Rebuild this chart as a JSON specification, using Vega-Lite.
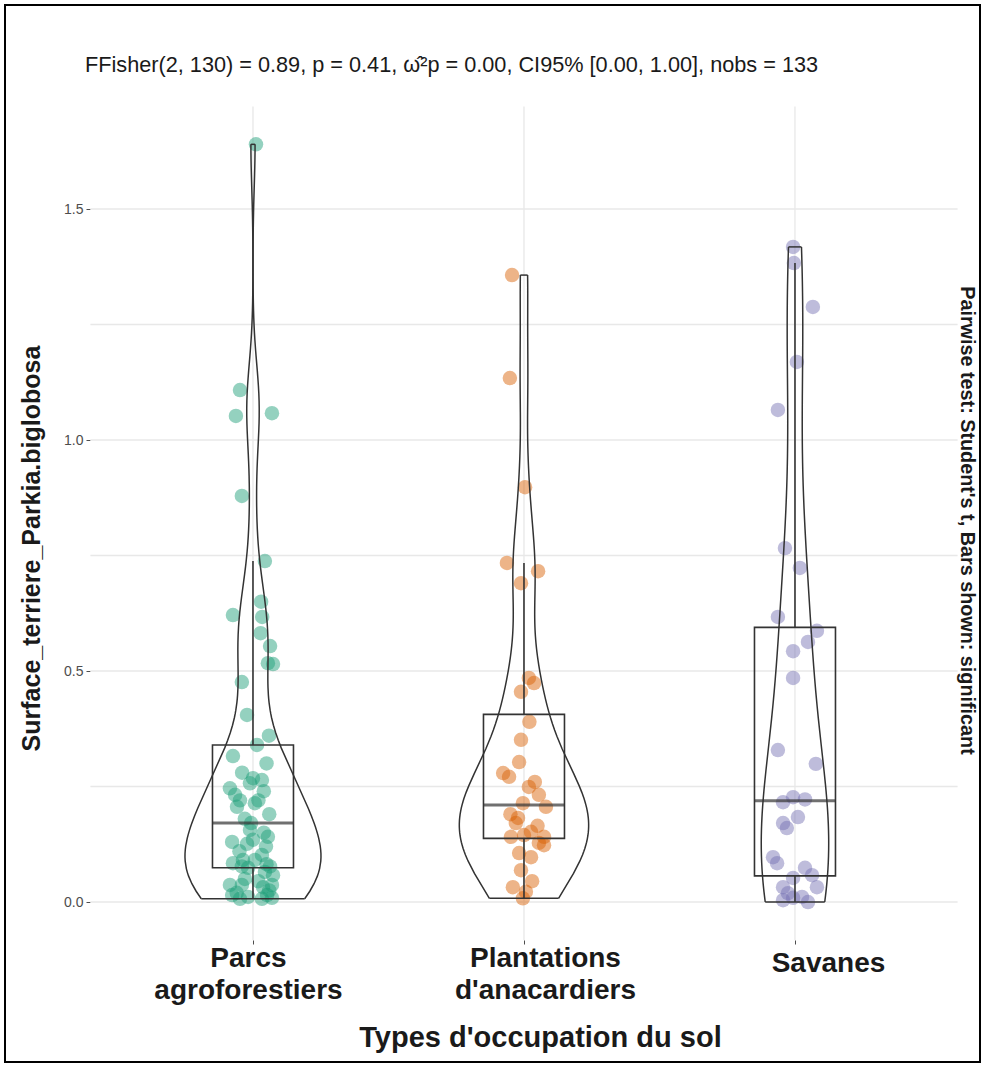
{
  "$schema": "https://vega.github.io/schema/vega-lite/v6.json",
  "width": 975,
  "height": 1057,
  "autosize": {"type": "none"},
  "padding": {"left": 5, "top": 5, "right": 4, "bottom": 4},
  "background": "white",
  "config": {
    "font": "Liberation Sans",
    "view": {"stroke": "#000000", "strokeWidth": 2, "fill": "white"}
  },
  "title": {
    "text": "FFisher(2, 130) = 0.89, p = 0.41, ω̂²p = 0.00, CI95% [0.00, 1.00], nobs = 133",
    "anchor": "start",
    "frame": "group",
    "offset": -72,
    "dx": 80,
    "fontSize": 21.7,
    "fontWeight": "normal",
    "color": "#1A1A1A"
  },
  "datasets": {
    "obs": [
      {"group": "Parcs agroforestiers", "value": 1.64, "jitter": 0.011},
      {"group": "Parcs agroforestiers", "value": 1.108, "jitter": -0.048},
      {"group": "Parcs agroforestiers", "value": 1.052, "jitter": -0.063},
      {"group": "Parcs agroforestiers", "value": 1.058, "jitter": 0.07},
      {"group": "Parcs agroforestiers", "value": 0.879, "jitter": -0.041},
      {"group": "Parcs agroforestiers", "value": 0.738, "jitter": 0.044},
      {"group": "Parcs agroforestiers", "value": 0.621, "jitter": -0.074},
      {"group": "Parcs agroforestiers", "value": 0.65, "jitter": 0.03},
      {"group": "Parcs agroforestiers", "value": 0.617, "jitter": 0.034},
      {"group": "Parcs agroforestiers", "value": 0.582, "jitter": 0.028},
      {"group": "Parcs agroforestiers", "value": 0.554, "jitter": 0.063},
      {"group": "Parcs agroforestiers", "value": 0.517, "jitter": 0.055},
      {"group": "Parcs agroforestiers", "value": 0.515, "jitter": 0.074},
      {"group": "Parcs agroforestiers", "value": 0.476, "jitter": -0.041},
      {"group": "Parcs agroforestiers", "value": 0.405, "jitter": -0.022},
      {"group": "Parcs agroforestiers", "value": 0.36, "jitter": 0.059},
      {"group": "Parcs agroforestiers", "value": 0.34, "jitter": 0.015},
      {"group": "Parcs agroforestiers", "value": 0.316, "jitter": -0.074},
      {"group": "Parcs agroforestiers", "value": 0.3, "jitter": 0.05},
      {"group": "Parcs agroforestiers", "value": 0.28, "jitter": -0.04},
      {"group": "Parcs agroforestiers", "value": 0.268, "jitter": 0.0},
      {"group": "Parcs agroforestiers", "value": 0.264, "jitter": 0.033},
      {"group": "Parcs agroforestiers", "value": 0.257, "jitter": -0.011},
      {"group": "Parcs agroforestiers", "value": 0.246, "jitter": -0.085},
      {"group": "Parcs agroforestiers", "value": 0.24, "jitter": 0.04},
      {"group": "Parcs agroforestiers", "value": 0.232, "jitter": -0.066},
      {"group": "Parcs agroforestiers", "value": 0.22, "jitter": -0.048},
      {"group": "Parcs agroforestiers", "value": 0.22, "jitter": 0.02},
      {"group": "Parcs agroforestiers", "value": 0.214, "jitter": 0.007},
      {"group": "Parcs agroforestiers", "value": 0.206, "jitter": -0.059},
      {"group": "Parcs agroforestiers", "value": 0.19, "jitter": 0.06},
      {"group": "Parcs agroforestiers", "value": 0.18, "jitter": -0.03},
      {"group": "Parcs agroforestiers", "value": 0.171, "jitter": -0.007},
      {"group": "Parcs agroforestiers", "value": 0.156, "jitter": -0.011},
      {"group": "Parcs agroforestiers", "value": 0.15, "jitter": 0.04},
      {"group": "Parcs agroforestiers", "value": 0.141, "jitter": 0.055},
      {"group": "Parcs agroforestiers", "value": 0.135, "jitter": 0.0},
      {"group": "Parcs agroforestiers", "value": 0.13, "jitter": -0.077},
      {"group": "Parcs agroforestiers", "value": 0.126, "jitter": -0.022},
      {"group": "Parcs agroforestiers", "value": 0.12, "jitter": 0.048},
      {"group": "Parcs agroforestiers", "value": 0.11, "jitter": -0.05},
      {"group": "Parcs agroforestiers", "value": 0.102, "jitter": 0.033},
      {"group": "Parcs agroforestiers", "value": 0.091, "jitter": -0.037},
      {"group": "Parcs agroforestiers", "value": 0.091, "jitter": 0.007},
      {"group": "Parcs agroforestiers", "value": 0.084, "jitter": -0.074},
      {"group": "Parcs agroforestiers", "value": 0.082, "jitter": 0.05},
      {"group": "Parcs agroforestiers", "value": 0.077, "jitter": -0.041},
      {"group": "Parcs agroforestiers", "value": 0.077, "jitter": 0.063},
      {"group": "Parcs agroforestiers", "value": 0.074, "jitter": -0.018},
      {"group": "Parcs agroforestiers", "value": 0.065, "jitter": 0.044},
      {"group": "Parcs agroforestiers", "value": 0.058, "jitter": 0.074},
      {"group": "Parcs agroforestiers", "value": 0.05, "jitter": -0.03},
      {"group": "Parcs agroforestiers", "value": 0.045, "jitter": 0.02},
      {"group": "Parcs agroforestiers", "value": 0.037, "jitter": -0.085},
      {"group": "Parcs agroforestiers", "value": 0.037, "jitter": -0.041},
      {"group": "Parcs agroforestiers", "value": 0.037, "jitter": 0.07},
      {"group": "Parcs agroforestiers", "value": 0.032, "jitter": 0.037},
      {"group": "Parcs agroforestiers", "value": 0.025, "jitter": 0.06},
      {"group": "Parcs agroforestiers", "value": 0.02, "jitter": -0.06},
      {"group": "Parcs agroforestiers", "value": 0.015, "jitter": -0.077},
      {"group": "Parcs agroforestiers", "value": 0.015, "jitter": 0.052},
      {"group": "Parcs agroforestiers", "value": 0.011, "jitter": -0.018},
      {"group": "Parcs agroforestiers", "value": 0.009, "jitter": 0.07},
      {"group": "Parcs agroforestiers", "value": 0.007, "jitter": -0.048},
      {"group": "Parcs agroforestiers", "value": 0.007, "jitter": 0.033},
      {"group": "Plantations d'anacardiers", "value": 1.357, "jitter": -0.044},
      {"group": "Plantations d'anacardiers", "value": 1.134, "jitter": -0.052},
      {"group": "Plantations d'anacardiers", "value": 0.898, "jitter": 0.004},
      {"group": "Plantations d'anacardiers", "value": 0.734, "jitter": -0.063},
      {"group": "Plantations d'anacardiers", "value": 0.716, "jitter": 0.052},
      {"group": "Plantations d'anacardiers", "value": 0.69, "jitter": -0.011},
      {"group": "Plantations d'anacardiers", "value": 0.485, "jitter": 0.018},
      {"group": "Plantations d'anacardiers", "value": 0.474, "jitter": 0.037},
      {"group": "Plantations d'anacardiers", "value": 0.455, "jitter": -0.011},
      {"group": "Plantations d'anacardiers", "value": 0.39, "jitter": 0.02},
      {"group": "Plantations d'anacardiers", "value": 0.351, "jitter": -0.011},
      {"group": "Plantations d'anacardiers", "value": 0.303, "jitter": -0.018},
      {"group": "Plantations d'anacardiers", "value": 0.279, "jitter": -0.077},
      {"group": "Plantations d'anacardiers", "value": 0.271, "jitter": -0.055},
      {"group": "Plantations d'anacardiers", "value": 0.26, "jitter": 0.04},
      {"group": "Plantations d'anacardiers", "value": 0.249, "jitter": 0.018},
      {"group": "Plantations d'anacardiers", "value": 0.232, "jitter": 0.055},
      {"group": "Plantations d'anacardiers", "value": 0.214, "jitter": -0.004},
      {"group": "Plantations d'anacardiers", "value": 0.206, "jitter": 0.081},
      {"group": "Plantations d'anacardiers", "value": 0.19, "jitter": -0.05},
      {"group": "Plantations d'anacardiers", "value": 0.182, "jitter": -0.022},
      {"group": "Plantations d'anacardiers", "value": 0.171, "jitter": -0.03},
      {"group": "Plantations d'anacardiers", "value": 0.165, "jitter": 0.05},
      {"group": "Plantations d'anacardiers", "value": 0.152, "jitter": 0.026},
      {"group": "Plantations d'anacardiers", "value": 0.145, "jitter": 0.0},
      {"group": "Plantations d'anacardiers", "value": 0.141, "jitter": -0.048},
      {"group": "Plantations d'anacardiers", "value": 0.141, "jitter": 0.074},
      {"group": "Plantations d'anacardiers", "value": 0.128, "jitter": 0.055},
      {"group": "Plantations d'anacardiers", "value": 0.123, "jitter": 0.074},
      {"group": "Plantations d'anacardiers", "value": 0.106, "jitter": -0.018},
      {"group": "Plantations d'anacardiers", "value": 0.097, "jitter": 0.026},
      {"group": "Plantations d'anacardiers", "value": 0.069, "jitter": -0.011},
      {"group": "Plantations d'anacardiers", "value": 0.045, "jitter": 0.03},
      {"group": "Plantations d'anacardiers", "value": 0.032, "jitter": -0.041},
      {"group": "Plantations d'anacardiers", "value": 0.022, "jitter": 0.007},
      {"group": "Plantations d'anacardiers", "value": 0.008, "jitter": -0.004},
      {"group": "Savanes", "value": 1.418, "jitter": -0.007},
      {"group": "Savanes", "value": 1.383, "jitter": -0.004},
      {"group": "Savanes", "value": 1.288, "jitter": 0.066},
      {"group": "Savanes", "value": 1.169, "jitter": 0.007},
      {"group": "Savanes", "value": 1.065, "jitter": -0.063},
      {"group": "Savanes", "value": 0.766, "jitter": -0.037},
      {"group": "Savanes", "value": 0.723, "jitter": 0.018},
      {"group": "Savanes", "value": 0.617, "jitter": -0.063},
      {"group": "Savanes", "value": 0.587, "jitter": 0.081},
      {"group": "Savanes", "value": 0.563, "jitter": 0.048},
      {"group": "Savanes", "value": 0.543, "jitter": -0.007},
      {"group": "Savanes", "value": 0.485, "jitter": -0.007},
      {"group": "Savanes", "value": 0.329, "jitter": -0.063},
      {"group": "Savanes", "value": 0.299, "jitter": 0.077},
      {"group": "Savanes", "value": 0.227, "jitter": -0.007},
      {"group": "Savanes", "value": 0.222, "jitter": 0.037},
      {"group": "Savanes", "value": 0.216, "jitter": -0.044},
      {"group": "Savanes", "value": 0.184, "jitter": 0.011},
      {"group": "Savanes", "value": 0.171, "jitter": -0.044},
      {"group": "Savanes", "value": 0.16, "jitter": -0.03},
      {"group": "Savanes", "value": 0.097, "jitter": -0.081},
      {"group": "Savanes", "value": 0.084, "jitter": -0.066},
      {"group": "Savanes", "value": 0.074, "jitter": 0.037},
      {"group": "Savanes", "value": 0.058, "jitter": 0.063},
      {"group": "Savanes", "value": 0.052, "jitter": -0.007},
      {"group": "Savanes", "value": 0.032, "jitter": 0.081},
      {"group": "Savanes", "value": 0.032, "jitter": -0.044},
      {"group": "Savanes", "value": 0.019, "jitter": -0.026},
      {"group": "Savanes", "value": 0.011, "jitter": 0.026},
      {"group": "Savanes", "value": 0.009, "jitter": -0.007},
      {"group": "Savanes", "value": 0.004, "jitter": -0.044},
      {"group": "Savanes", "value": 0.0, "jitter": 0.048}
    ],
    "breaks": [
      {"b": 0}, {"b": 0.25}, {"b": 0.5}, {"b": 0.75}, {"b": 1}, {"b": 1.25}, {"b": 1.5}
    ]
  },
  "data": {"name": "obs"},
  "layer": [
    {
      "data": {"name": "breaks"},
      "mark": {"type": "rule", "color": "#E8E8E8", "strokeWidth": 1.3},
      "encoding": {
        "x": {
          "datum": 0.4,
          "type": "quantitative",
          "scale": {"domain": [0.08487, 3.68266], "nice": false, "zero": false},
          "axis": null
        },
        "x2": {"datum": 3.6},
        "y": {
          "field": "b",
          "type": "quantitative",
          "scale": {"domain": [-0.3463, 1.9416], "nice": false, "zero": false},
          "axis": {
            "orient": "right",
            "offset": -27,
            "labels": false,
            "ticks": false,
            "domain": false,
            "grid": false,
            "title": "Pairwise test: Student's t, Bars shown: significant",
            "titleFontSize": 19.8,
            "titleFontWeight": "bold",
            "titleColor": "#1A1A1A",
            "titlePadding": 3,
            "titleY": 515
          }
        }
      }
    },
    {
      "layer": [
        {
          "transform": [{"aggregate": [{"op": "count", "as": "n"}], "groupby": ["group"]}],
          "mark": {"type": "rule", "color": "#E8E8E8", "strokeWidth": 1.3},
          "encoding": {
            "x": {
              "field": "group",
              "type": "nominal",
              "scale": {"type": "point", "domain": ["Parcs agroforestiers", "Plantations d'anacardiers", "Savanes"], "padding": 0.7989, "align": 0.5727}
            },
            "y": {"datum": -0.082, "type": "quantitative", "title": "Surface_terriere_Parkia.biglobosa"},
            "y2": {"datum": 1.722}
          }
        },
        {
          "mark": {"type": "circle", "size": 210, "opacity": 0.47},
          "encoding": {
            "x": {
              "field": "group",
              "type": "nominal",
              "title": "Types d'occupation du sol",
              "scale": {"type": "point", "domain": ["Parcs agroforestiers", "Plantations d'anacardiers", "Savanes"], "padding": 0.7989, "align": 0.5727},
              "axis": {
                "orient": "bottom",
                "offset": -122,
                "labelExpr": "split(datum.label, ' ')",
                "labelAngle": 0,
                "labelAlign": "center",
                "labelLimit": 0,
                "labelOffset": {
                  "condition": [
                    {"test": "datum.value === 'Savanes'", "value": 33},
                    {"test": "datum.value === 'Parcs agroforestiers'", "value": -5}
                  ],
                  "value": 21
                },
                "labelPadding": {
                  "condition": {"test": "datum.value === 'Savanes'", "value": 19},
                  "value": 14
                },
                "labelFontSize": 28,
                "labelFontWeight": "bold",
                "labelColor": "#1A1A1A",
                "labelLineHeight": 32,
                "ticks": true,
                "tickSize": 4,
                "tickColor": "#4D4D4D",
                "domain": false,
                "grid": false,
                "titleFontSize": 29,
                "titleFontWeight": "bold",
                "titleColor": "#1A1A1A",
                "titlePadding": 19,
                "titleX": 535
              }
            },
            "xOffset": {
              "field": "jitter",
              "type": "quantitative",
              "scale": {"domain": [-1, 1], "range": [-271, 271]}
            },
            "y": {
              "field": "value",
              "type": "quantitative",
              "title": "Surface_terriere_Parkia.biglobosa",
              "scale": {"domain": [-0.3463, 1.9416], "nice": false, "zero": false},
              "axis": {
                "orient": "left",
                "offset": -85,
                "values": [0, 0.5, 1, 1.5],
                "format": ".1f",
                "labelFontSize": 14,
                "labelColor": "#4D4D4D",
                "labelPadding": 3,
                "tickSize": 4,
                "tickColor": "#4D4D4D",
                "domain": false,
                "grid": false,
                "titleFontSize": 25,
                "titleFontWeight": "bold",
                "titleColor": "#1A1A1A",
                "titlePadding": 19,
                "titleY": 543
              }
            },
            "color": {
              "field": "group",
              "type": "nominal",
              "scale": {"domain": ["Parcs agroforestiers", "Plantations d'anacardiers", "Savanes"], "range": ["#1B9E77", "#D95F02", "#7570B3"]},
              "legend": null
            }
          }
        },
        {
          "mark": {
            "type": "boxplot",
            "extent": 1.5,
            "size": 81,
            "outliers": false,
            "ticks": false,
            "box": {"fill": "white", "fillOpacity": 0, "stroke": "#333333", "strokeWidth": 1.6},
            "median": {"color": "#333333", "thickness": 3},
            "rule": {"color": "#333333", "strokeWidth": 1.6}
          },
          "encoding": {
            "x": {"field": "group", "type": "nominal", "title": "Types d'occupation du sol"},
            "y": {"field": "value", "type": "quantitative", "title": "Surface_terriere_Parkia.biglobosa"}
          }
        },
        {
          "transform": [
            {"density": "value", "groupby": ["group"], "as": ["v", "density"], "resolve": "independent"},
            {"joinaggregate": [{"op": "min", "field": "v", "as": "vmin"}, {"op": "max", "field": "v", "as": "vmax"}], "groupby": ["group"]}
          ],
          "layer": [
            {
              "mark": {"type": "line", "color": "#333333", "strokeWidth": 1.5},
              "encoding": {
                "x": {"field": "group", "type": "nominal", "title": "Types d'occupation du sol"},
                "xOffset": {"field": "density", "type": "quantitative", "scale": {"range": [0, 68], "zero": true}},
                "y": {"field": "v", "type": "quantitative", "title": "Surface_terriere_Parkia.biglobosa"},
                "detail": {"field": "group"},
                "order": {"field": "v", "type": "quantitative"}
              }
            },
            {
              "mark": {"type": "line", "color": "#333333", "strokeWidth": 1.5},
              "encoding": {
                "x": {"field": "group", "type": "nominal", "title": "Types d'occupation du sol"},
                "xOffset": {"field": "density", "type": "quantitative", "scale": {"range": [0, -68], "zero": true}},
                "y": {"field": "v", "type": "quantitative", "title": "Surface_terriere_Parkia.biglobosa"},
                "detail": {"field": "group"},
                "order": {"field": "v", "type": "quantitative"}
              }
            },
            {
              "mark": {"type": "tick", "color": "#333333", "thickness": 1.5},
              "encoding": {
                "x": {"field": "group", "type": "nominal", "title": "Types d'occupation du sol"},
                "y": {"field": "v", "type": "quantitative", "title": "Surface_terriere_Parkia.biglobosa"},
                "size": {"field": "density", "type": "quantitative", "scale": {"range": [0, 136], "zero": true}, "legend": null},
                "opacity": {"condition": {"test": "datum.v === datum.vmin || datum.v === datum.vmax", "value": 1}, "value": 0}
              }
            }
          ],
          "resolve": {"scale": {"xOffset": "independent"}}
        }
      ],
      "resolve": {"scale": {"xOffset": "independent"}}
    }
  ],
  "resolve": {"scale": {"x": "independent"}, "axis": {"y": "independent"}}
}
